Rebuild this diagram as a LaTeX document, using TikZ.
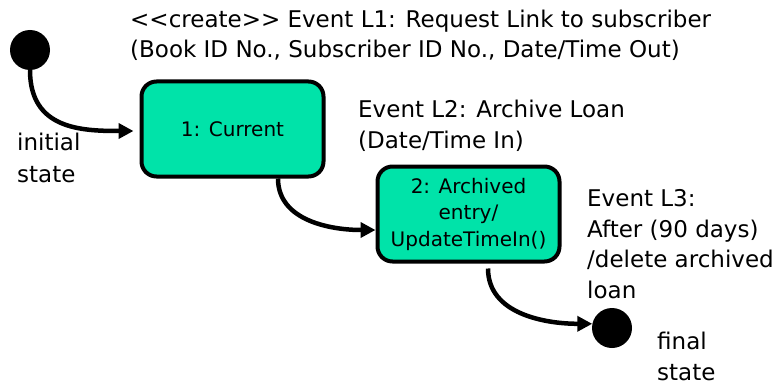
\documentclass[tikz,border=0pt]{standalone}
\usepackage{fontspec}
\setmainfont{DejaVu Sans}
\usetikzlibrary{arrows.meta}
\definecolor{statefill}{RGB}{0,227,169}
\tikzset{
  px/.style={x=1pt,y=-1pt},
  statebox/.style={draw=black,line width=4pt,fill=statefill,rounded corners=15pt,
    minimum width=182pt,minimum height=95pt,align=center,inner sep=2pt,
    font=\fontsize{20}{26.5}\selectfont},
  pseudo/.style={circle,fill=black,minimum size=40pt,inner sep=0pt},
  lbl/.style={anchor=base west,align=left,inner sep=0pt,
    font=\fontsize{23}{30.5}\selectfont},
  trans/.style={line width=4.5pt,-{Triangle[length=15pt,width=15pt]}},
}
\begin{document}
\begin{tikzpicture}[px]
\useasboundingbox (0,0) rectangle (775,385);
% pseudo-states
\node[pseudo] (init) at (30,50) {};
\node[pseudo] (fin) at (612,328) {};
% states
\node[statebox] (current) at (232.5,129) {1: Current};
\node[statebox] (archived) at (468.5,214) {2: Archived\\entry/\\UpdateTimeIn()};
% labels (anchored at the baseline of their last line)
\node[lbl] (ev1) at (130,58) {<{}<create>{}> Event L1: Request Link to subscriber\\(Book ID No., Subscriber ID No., Date/Time Out)};
\node[lbl] (ev2) at (358,148) {Event L2: Archive Loan\\(Date/Time In)};
\node[lbl] (ev3) at (587,298) {Event L3:\\After (90 days)\\/delete archived\\loan};
\node[lbl,font=\fontsize{23}{32}\selectfont] (initlbl) at (17,182) {initial\\state};
\node[lbl] (finlbl) at (657,380) {final\\state};
% transitions
\draw[trans,shorten >=6pt] (init.south) to[out=-90,in=180,looseness=1.2] ([yshift=-2pt]current.west);
\draw[trans] ([xshift=45.5pt]current.south) to[out=-90,in=180,looseness=1] ([yshift=-16pt]archived.west);
\draw[trans] ([xshift=19.5pt,yshift=-5pt]archived.south) to[out=-90,in=180,looseness=1] (fin.168);
\end{tikzpicture}
\end{document}
